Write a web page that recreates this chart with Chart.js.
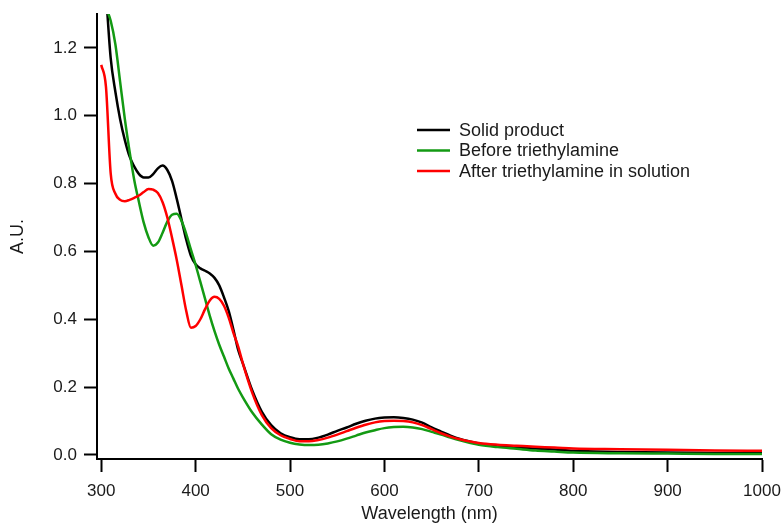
<!DOCTYPE html>
<html>
<head>
<meta charset="utf-8">
<script src="https://cdn.jsdelivr.net/npm/chart.js@4/dist/chart.umd.min.js"></script>
<style>
  html, body { margin: 0; padding: 0; background: #fff; }
  #wrap { width: 784px; height: 525px; }
</style>
</head>
<body>
<div id="wrap"><canvas id="myChart"></canvas></div>
<script>
// Absorbance spectra

const wavelengths = [300, 305, 310, 315, 320, 325, 330, 335, 340, 345, 350, 355, 360, 365, 370, 375, 380, 385, 390, 395,
  400, 405, 410, 415, 420, 425, 430, 435, 440, 445, 450, 460, 470, 480, 490, 500, 510, 520, 530, 540,
  550, 560, 570, 580, 590, 600, 610, 620, 630, 640, 650, 660, 670, 680, 690, 700, 720, 740, 760, 780,
  800, 850, 900, 950, 1000];

const solidProduct = [1.52, 1.36, 1.17, 1.07, 0.99, 0.928, 0.88, 0.85, 0.828, 0.818, 0.818, 0.828, 0.845, 0.853, 0.84, 0.808, 0.755, 0.695, 0.635, 0.587,
  0.562, 0.55, 0.543, 0.535, 0.522, 0.5, 0.465, 0.425, 0.37, 0.31, 0.27, 0.19, 0.128, 0.088, 0.064, 0.052, 0.046, 0.046, 0.051, 0.06,
  0.071, 0.081, 0.092, 0.101, 0.107, 0.11, 0.111, 0.109, 0.104, 0.095, 0.081, 0.069, 0.057, 0.047, 0.04, 0.034, 0.027, 0.022, 0.019, 0.016,
  0.012, 0.009, 0.007, 0.006, 0.005];

const beforeTea = [1.37, 1.32, 1.28, 1.21, 1.1, 0.99, 0.895, 0.81, 0.745, 0.685, 0.642, 0.617, 0.626, 0.655, 0.688, 0.708, 0.711, 0.69, 0.652, 0.605,
  0.56, 0.51, 0.46, 0.41, 0.365, 0.325, 0.29, 0.255, 0.225, 0.195, 0.17, 0.125, 0.09, 0.061, 0.045, 0.036, 0.031, 0.029, 0.03, 0.034,
  0.04, 0.048, 0.057, 0.066, 0.073, 0.079, 0.082, 0.083, 0.081, 0.076, 0.068, 0.06, 0.051, 0.043, 0.036, 0.03, 0.023, 0.018, 0.013, 0.01,
  0.007, 0.005, 0.004, 0.003, 0.003];

const afterTea = [1.15, 1.085, 0.83, 0.77, 0.752, 0.748, 0.752, 0.758, 0.765, 0.775, 0.784, 0.782, 0.772, 0.745, 0.7, 0.64, 0.575, 0.5, 0.425, 0.375,
  0.38, 0.4, 0.43, 0.455, 0.466, 0.46, 0.44, 0.405, 0.36, 0.32, 0.27, 0.183, 0.118, 0.079, 0.058, 0.047, 0.04, 0.04, 0.044, 0.051,
  0.06, 0.07, 0.08, 0.089, 0.096, 0.1, 0.101, 0.1, 0.096, 0.088, 0.076, 0.064, 0.054, 0.046, 0.04, 0.035, 0.03, 0.027, 0.024, 0.022,
  0.019, 0.017, 0.015, 0.013, 0.012];

const seriesNames = ["Solid product", "Before triethylamine", "After triethylamine in solution"];
const seriesColors = ["#000000", "#139a13", "#ff0000"];

const xTicks = [300, 400, 500, 600, 700, 800, 900, 1000];
const yTicks = [0, 0.2, 0.4, 0.6, 0.8, 1.0, 1.2];

const FONT = "'Liberation Sans', Arial, sans-serif";
const TEXT = "#1a1a1a";

const toPoints = (vals) => wavelengths.map((w, i) => ({ x: w, y: vals[i] }));

//legend drawn inside the plot
const insideLegend = {
  id: "insideLegend",
  afterDraw(chart) {
    const ctx = chart.ctx;
    ctx.save();
    ctx.font = `18px ${FONT}`;
    ctx.textBaseline = "middle";
    ctx.fillStyle = TEXT;
    seriesNames.forEach((name, i) => {
      const y = 130 + i * 20.5;
      ctx.strokeStyle = seriesColors[i];
      ctx.lineWidth = 2.5;
      ctx.beginPath();
      ctx.moveTo(417, y);
      ctx.lineTo(450, y);
      ctx.stroke();
      ctx.fillText(name, 459, y + 1);
    });
    ctx.restore();
  },
};

new Chart("myChart", {
  type: "line",
  data: {
    datasets: [solidProduct, beforeTea, afterTea].map((vals, i) => ({
      label: seriesNames[i],
      data: toPoints(vals),
      borderColor: seriesColors[i],
      borderWidth: 2.5,
      pointRadius: 0,
      cubicInterpolationMode: "monotone",
      fill: false,
      order: 3 - i,
      clip: 0,
    })),
  },
  options: {
    responsive: true,
    maintainAspectRatio: false,
    animation: false,
    events: [],
    layout: { padding: { top: 14, right: 22, left: 0, bottom: 0 } },
    plugins: {
      legend: { display: false },
      tooltip: { enabled: false },
    },
    scales: {
      x: {
        type: "linear",
        min: 295.5,
        max: 1000,
        afterBuildTicks: (scale) => {
          scale.ticks = xTicks.map((v) => ({ value: v }));
        },
        afterFit: (scale) => {
          scale.height = 66;
          scale.paddingLeft = 0;
          scale.paddingRight = 0;
        },
        grid: {
          drawOnChartArea: false,
          drawTicks: true,
          tickLength: 13,
          tickWidth: 2,
          tickColor: "#000",
        },
        border: { display: true, color: "#000", width: 2 },
        ticks: {
          color: TEXT,
          font: { family: FONT, size: 17 },
          padding: 9,
          maxRotation: 0,
          callback: (v) => v.toString(),
        },
        title: {
          display: true,
          text: "Wavelength (nm)",
          color: TEXT,
          font: { family: FONT, size: 18 },
          padding: { top: 0, bottom: 0 },
        },
      },
      y: {
        min: -0.012,
        max: 1.3,
        afterBuildTicks: (scale) => {
          scale.ticks = yTicks.map((v) => ({ value: v }));
        },
        afterFit: (scale) => {
          scale.width = 97;
          scale.paddingTop = 0;
          scale.paddingBottom = 0;
        },
        grid: {
          drawOnChartArea: false,
          drawTicks: true,
          tickLength: 13,
          tickWidth: 2,
          tickColor: "#000",
        },
        border: { display: true, color: "#000", width: 2 },
        ticks: {
          color: TEXT,
          font: { family: FONT, size: 17 },
          padding: 7,
          callback: (v) => v.toFixed(1),
        },
        title: {
          display: true,
          text: "A.U.",
          color: TEXT,
          font: { family: FONT, size: 18 },
          padding: { top: 7, bottom: 0 },
        },
      },
    },
  },
  plugins: [insideLegend],
});
</script>
</body>
</html>
